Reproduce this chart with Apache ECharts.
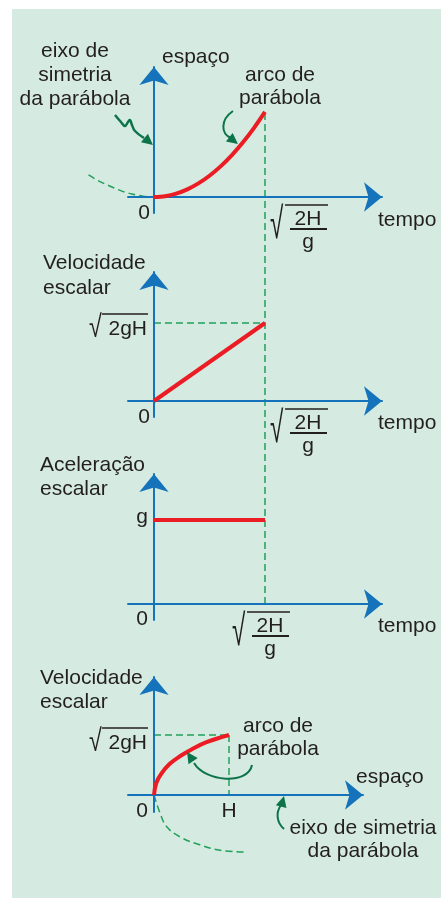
<!DOCTYPE html>
<html>
<head>
<meta charset="utf-8">
<title>Queda livre: gráficos do movimento</title>
<script src="https://cdn.jsdelivr.net/npm/echarts@6.0.0/dist/echarts.min.js"></script>
<style>
  html, body { margin: 0; padding: 0; background: #ffffff; }
  #chart { width: 441px; height: 899px; }
</style>
</head>
<body>
<div id="chart"></div>
<script>
// Units: time in √(2H/g), space in H, speed in √(2gH), acceleration in g.

// Panel 1: espaço × tempo
const spaceTimeArc = [[0, 0], [0.1, 0.01], [0.2, 0.04], [0.3, 0.09], [0.4, 0.16], [0.5, 0.25], [0.6, 0.36], [0.7, 0.49], [0.8, 0.64], [0.9, 0.81], [1, 1]];
const spaceTimeBranch = [[-0.59, 0.26], [-0.5, 0.19], [-0.4, 0.13], [-0.3, 0.075], [-0.2, 0.035], [-0.1, 0.01], [0, 0]];
// Panel 2: velocidade × tempo
const speedTimeLine = [[0, 0], [1, 1]];
const speedTimeGuide = [[0, 1], [1, 1]];
// Panel 3: aceleração × tempo
const accelTimeLine = [[0, 1], [1, 1]];
// Fall-time guide shared by panels 1 to 3
const fallTimeGuide = [[1, 0], [1, 1]];
// Panel 4: velocidade × espaço
const speedSpaceArc = [[0, 0], [0.03, 0.2], [0.1, 0.36], [0.21, 0.52], [0.35, 0.65], [0.5, 0.76], [0.7, 0.88], [1, 1]];
const speedSpaceBranch = [[0, 0], [0.08, -0.3], [0.17, -0.53], [0.35, -0.7], [0.61, -0.83], [0.88, -0.92], [1.21, -0.95]];
const speedSpaceGuideH = [[0, 1], [1, 1]];
const speedSpaceGuideV = [[1, 1], [1, 0]];

// Axis titles and tick texts
const yTitles = ['espaço', 'Velocidade\nescalar', 'Aceleração\nescalar', 'Velocidade\nescalar'];
const xTitles = ['tempo', 'tempo', 'tempo', 'espaço'];
const originLabel = '0';
const fallTimeLabel = ['2H', 'g'];
const speedLabel = '2gH';
const accelLabel = 'g';
const heightLabel = 'H';
const arcNote = 'arco de\nparábola';
const axisNote1 = 'eixo de\nsimetria\nda parábola';
const axisNote4 = 'eixo de simetria\nda parábola';

const BLUE = '#1473ba';
const RED = '#ec1c24';
const DASH = '#22a05a';
const ARROW = '#0c7448';
const INK = '#231f20';
const BG = '#d5eae0';
const FONT = '"Liberation Sans", Arial, Helvetica, sans-serif';

const panels = [
  { left: 128, top: 67,  width: 254, height: 146, x: [-0.234, 2.054], y: [-0.188, 1.529] },
  { left: 128, top: 272, width: 254, height: 145, x: [-0.234, 2.054], y: [-0.205, 1.654] },
  { left: 128, top: 474, width: 254, height: 146, x: [-0.234, 2.054], y: [-0.19, 1.548] },
  { left: 128, top: 677, width: 235, height: 135, x: [-0.347, 2.787], y: [-0.283, 1.967] }
];
// hidden grids: the fall-time guide across panels 1 to 3, and the mirrored
// half of the parabola in panel 1 (which reaches left of the time axis)
const hiddenGrids = [
  { left: 128, top: 112, width: 254, height: 492, x: [-0.234, 2.054], y: [0, 1] },
  { left: 64,  top: 67,  width: 318, height: 146, x: [-0.8108, 2.054], y: [-0.188, 1.529] }
];

const axisLine = {
  show: true,
  onZero: true,
  symbol: ['none', 'arrow'],
  symbolSize: [22, 18],
  lineStyle: { color: BLUE, width: 2 }
};

const grid = [], xAxis = [], yAxis = [];
panels.forEach(function (p) {
  const gi = grid.length;
  grid.push({ left: p.left, top: p.top, width: p.width, height: p.height });
  xAxis.push({ type: 'value', gridIndex: gi, min: p.x[0], max: p.x[1], z: 2,
    axisLine: axisLine, axisTick: { show: false }, axisLabel: { show: false }, splitLine: { show: false } });
  yAxis.push({ type: 'value', gridIndex: gi, min: p.y[0], max: p.y[1], z: 2,
    axisLine: axisLine, axisTick: { show: false }, axisLabel: { show: false }, splitLine: { show: false } });
});
hiddenGrids.forEach(function (p) {
  const gi = grid.length;
  grid.push({ left: p.left, top: p.top, width: p.width, height: p.height });
  xAxis.push({ type: 'value', gridIndex: gi, min: p.x[0], max: p.x[1], show: false });
  yAxis.push({ type: 'value', gridIndex: gi, min: p.y[0], max: p.y[1], show: false });
});

function curve(gi, data, solid, smooth) {
  return {
    type: 'line', xAxisIndex: gi, yAxisIndex: gi, data: data,
    symbol: 'none', smooth: smooth || false, clip: false, silent: true,
    z: solid ? 3 : 1,
    lineStyle: solid ? { color: RED, width: 4 } : { color: DASH, width: 1.5, type: [7, 4] }
  };
}

const series = [
  curve(4, fallTimeGuide, false),
  curve(5, spaceTimeBranch, false, 0.3),
  curve(0, spaceTimeArc, true, 0.3),
  curve(1, speedTimeGuide, false),
  curve(1, speedTimeLine, true),
  curve(2, accelTimeLine, true),
  curve(3, speedSpaceGuideH, false),
  curve(3, speedSpaceGuideV, false),
  curve(3, speedSpaceBranch, false, 0.4),
  curve(3, speedSpaceArc, true, 0.4)
];

const chart = echarts.init(document.getElementById('chart'));
chart.setOption({
  animation: false,
  backgroundColor: '#ffffff',
  grid: grid, xAxis: xAxis, yAxis: yAxis, series: series
});

// ---- annotations placed from axis coordinates ----
function px(gi, v) { return chart.convertToPixel({ gridIndex: gi }, v); }
const O = panels.map(function (p, i) { return px(i, [0, 0]); });
const T = px(0, [1, 0])[0];                 // x of √(2H/g)
const V2 = px(1, [0, 1])[1];                // y of √(2gH), panel 2
const G3 = px(2, [0, 1])[1];                // y of g, panel 3
const H4 = px(3, [1, 1]);                   // (x of H, y of √(2gH)), panel 4

function txt(x, y, text, align, vAlign, extra) {
  return {
    type: 'text', x: x, y: y, silent: true, z: 20,
    style: Object.assign({ text: text, fill: INK, fontSize: 21, fontFamily: FONT,
      align: align, verticalAlign: vAlign, lineHeight: 24 }, extra || {})
  };
}
function seg(x1, y1, x2, y2, w) {
  return { type: 'line', silent: true, z: 20, shape: { x1: x1, y1: y1, x2: x2, y2: y2 },
    style: { stroke: INK, lineWidth: w || 1.5 } };
}
// √(2H/g) below a time axis; xr = left edge of the radical, ya = y of the axis
function fallTime(xr, ya) {
  return [
    { type: 'text', x: xr, y: ya + 7, scaleX: 0.55, silent: true, z: 20,
      style: { text: '√', fill: INK, fontSize: 44, fontFamily: FONT, align: 'left', verticalAlign: 'top' } },
    seg(xr + 15, ya + 8, xr + 58, ya + 8, 1.5),
    txt(xr + 38, ya + 22, fallTimeLabel[0], 'center', 'middle'),
    seg(xr + 20, ya + 32, xr + 57, ya + 32, 2),
    txt(xr + 38, ya + 45, fallTimeLabel[1], 'center', 'middle')
  ];
}
// √(2gH) ending at xr; yv = top of the radical's bar
function speedTick(xr, yv) {
  return [
    { type: 'text', x: xr - 58, y: yv - 1, silent: true, z: 20, scaleX: 0.75,
      style: { text: '√', fill: INK, fontSize: 31, fontFamily: FONT, align: 'left', verticalAlign: 'top' } },
    seg(xr - 45, yv, xr + 1, yv, 1.5),
    txt(xr, yv + 15, speedLabel, 'right', 'middle')
  ];
}
function arrowHead(tip, from, len, half) {
  const dx = tip[0] - from[0], dy = tip[1] - from[1];
  const d = Math.hypot(dx, dy), ux = dx / d, uy = dy / d;
  const bx = tip[0] - ux * len, by = tip[1] - uy * len;
  return { type: 'polygon', silent: true, z: 20,
    shape: { points: [[tip[0], tip[1]], [bx - uy * half, by + ux * half], [bx + uy * half, by - ux * half]] },
    style: { fill: ARROW } };
}
function rel(o, d) { return [o[0] + d[0], o[1] + d[1]]; }
function bez(o, a, c1, c2, b) {
  const p = rel(o, a), q1 = rel(o, c1), q2 = rel(o, c2), e = rel(o, b);
  return { type: 'bezierCurve', silent: true, z: 20,
    shape: { x1: p[0], y1: p[1], cpx1: q1[0], cpy1: q1[1], cpx2: q2[0], cpy2: q2[1], x2: e[0], y2: e[1] },
    style: { stroke: ARROW, lineWidth: 2, fill: null } };
}

const g = [];
// panel background
g.push({ type: 'rect', z: -10, silent: true, shape: { x: 12, y: 9, width: 429, height: 889 }, style: { fill: BG } });

// Panel 1
const o1 = O[0];
g.push(txt(o1[0] - 79, o1[1] - 122, axisNote1, 'center', 'middle'));
g.push(txt(o1[0] + 8, o1[1] - 140, yTitles[0], 'left', 'middle'));
g.push(txt(T + 15, o1[1] - 110, arcNote, 'center', 'middle', { lineHeight: 23 }));
g.push(txt(o1[0] - 4, o1[1] + 16, originLabel, 'right', 'middle'));
g.push(txt(o1[0] + 224, o1[1] + 23, xTitles[0], 'left', 'middle'));
Array.prototype.push.apply(g, fallTime(T + 5, o1[1]));
g.push({ type: 'polyline', silent: true, z: 20,
  shape: { points: [[-39, -82], [-33, -75], [-29, -71], [-26, -75], [-24, -77], [-22, -72], [-19, -66], [-10, -59]].map(function (d) { return rel(o1, d); }), smooth: 0.4 },
  style: { stroke: ARROW, lineWidth: 2.5, fill: null } });
g.push(arrowHead(rel(o1, [-1, -52]), rel(o1, [-12, -61]), 11, 5.5));
g.push(bez(o1, [79, -86], [66, -77], [67, -63], [77, -59]));
g.push(arrowHead(rel(o1, [84, -53]), rel(o1, [75, -60]), 11, 5.5));

// Panel 2
const o2 = O[1];
g.push(txt(o2[0] - 111, o2[1] - 125, yTitles[1], 'left', 'middle', { lineHeight: 25 }));
Array.prototype.push.apply(g, speedTick(o2[0] - 7, V2 - 9));
g.push(txt(o2[0] - 4, o2[1] + 16, originLabel, 'right', 'middle'));
g.push(txt(o2[0] + 224, o2[1] + 22, xTitles[1], 'left', 'middle'));
Array.prototype.push.apply(g, fallTime(T + 5, o2[1]));

// Panel 3
const o3 = O[2];
g.push(txt(o3[0] - 114, o3[1] - 127, yTitles[2], 'left', 'middle', { lineHeight: 24 }));
g.push(txt(o3[0] - 6, G3 - 3, accelLabel, 'right', 'middle'));
g.push(txt(o3[0] - 6, o3[1] + 15, originLabel, 'right', 'middle'));
g.push(txt(o3[0] + 224, o3[1] + 22, xTitles[2], 'left', 'middle'));
Array.prototype.push.apply(g, fallTime(T - 33, o3[1]));

// Panel 4
const o4 = O[3];
g.push(txt(o4[0] - 114, o4[1] - 105, yTitles[3], 'left', 'middle', { lineHeight: 24 }));
Array.prototype.push.apply(g, speedTick(o4[0] - 7, H4[1] - 7));
g.push(txt(o4[0] + 124, o4[1] - 57, arcNote, 'center', 'middle', { lineHeight: 23 }));
g.push(txt(o4[0] + 202, o4[1] - 18, xTitles[3], 'left', 'middle'));
g.push(txt(o4[0] - 6, o4[1] + 16, originLabel, 'right', 'middle'));
g.push(txt(H4[0], o4[1] + 16, heightLabel, 'center', 'middle'));
g.push(txt(o4[0] + 209, o4[1] + 45, axisNote4, 'center', 'middle', { lineHeight: 23 }));
g.push(bez(o4, [98, -30], [94, -10], [51, -13], [40, -32]));
g.push(arrowHead(rel(o4, [33, -43]), rel(o4, [41, -31]), 11, 5.5));
g.push(bez(o4, [130, 34], [122, 27], [122, 17], [127, 10]));
g.push(arrowHead(rel(o4, [130, 1]), rel(o4, [127, 12]), 11, 5.5));

chart.setOption({ graphic: { elements: g } });
</script>
</body>
</html>
